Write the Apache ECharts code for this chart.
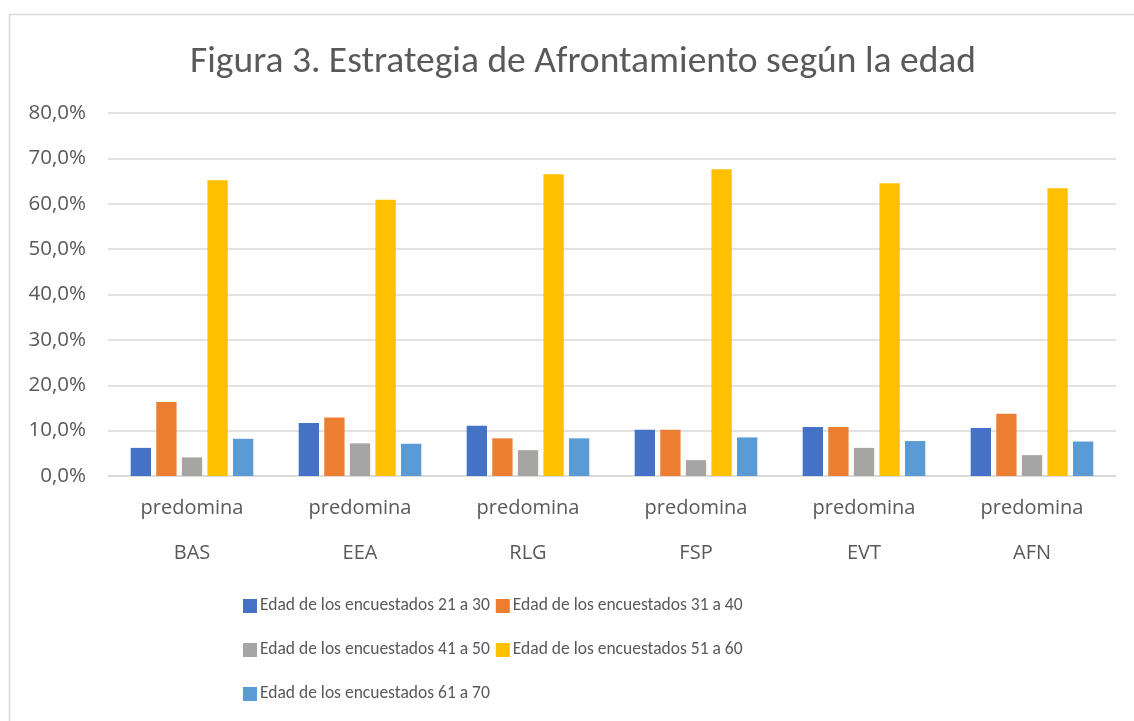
<!DOCTYPE html>
<html>
<head>
<meta charset="utf-8">
<script src="https://cdn.jsdelivr.net/npm/echarts@6/dist/echarts.min.js"></script>
<style>
  html, body { margin: 0; padding: 0; background: #fff; }
  #chart { width: 1134px; height: 721px; }
</style>
</head>
<body>
<div id="chart"></div>
<script>
// strategies (lower label row), upper row is always "predomina"
const categories = ['BAS', 'EEA', 'RLG', 'FSP', 'EVT', 'AFN']
const seriesNames = [
  'Edad de los encuestados 21 a 30',
  'Edad de los encuestados 31 a 40',
  'Edad de los encuestados 41 a 50',
  'Edad de los encuestados 51 a 60',
  'Edad de los encuestados 61 a 70'
]
const age21to30 = [6.2, 11.7, 11.1, 10.2, 10.8, 10.6]
const age31to40 = [16.3, 12.9, 8.3, 10.2, 10.8, 13.7]
const age41to50 = [4.1, 7.2, 5.7, 3.5, 6.2, 4.6]
const age51to60 = [65.2, 60.9, 66.5, 67.6, 64.5, 63.4]
const age61to70 = [8.2, 7.1, 8.3, 8.5, 7.7, 7.6]
const yTicks = [0, 10, 20, 30, 40, 50, 60, 70, 80]

const colors = ['#4472C4', '#ED7D31', '#A5A5A5', '#FFC000', '#5B9BD5']
const titleFont = 'Carlito, Calibri, "Noto Sans", sans-serif'
const legendFont = 'Carlito, Calibri, "Noto Sans", sans-serif'
const axisFont = '"Open Sans", "Noto Sans", sans-serif'
const textColor = '#595959'
const lineColor = '#d9d9d9'

const chart = echarts.init(document.getElementById('chart'))

const allValues = [age21to30, age31to40, age41to50, age51to60, age61to70]
const series = allValues.map((vals, i) => ({
  name: seriesNames[i],
  type: 'bar',
  data: vals,
  barGap: '26%',
  barCategoryGap: '27%',
  itemStyle: { color: colors[i] }
}))

const legendRow = (names, top) => ({
  data: names,
  left: 243,
  top: top,
  padding: 0,
  orient: 'horizontal',
  itemWidth: 14,
  itemHeight: 14,
  itemGap: 6,
  icon: 'rect',
  textStyle: { color: textColor, fontSize: 17.5, fontFamily: legendFont, padding: [0, 0, 0, -2] }
})

chart.setOption({
  animation: false,
  color: colors,
  graphic: [{
    type: 'rect',
    shape: { x: 9.5, y: 14.5, width: 1140, height: 720 },
    style: { fill: 'none', stroke: lineColor, lineWidth: 1.5 },
    silent: true
  }],
  title: {
    text: 'Figura 3. Estrategia de Afrontamiento según la edad',
    left: 578,
    textAlign: 'center',
    top: 39,
    textStyle: { color: textColor, fontSize: 37.5, fontWeight: 'normal', fontFamily: titleFont }
  },
  legend: [
    legendRow([seriesNames[0], seriesNames[1]], 597),
    legendRow([seriesNames[2], seriesNames[3]], 641),
    legendRow([seriesNames[4]], 685)
  ],
  grid: { left: 108, right: 18, top: 113, bottom: 245 },
  xAxis: {
    type: 'category',
    data: categories,
    axisLine: { lineStyle: { color: lineColor, width: 1.5 } },
    axisTick: { length: 92, lineStyle: { color: lineColor, width: 1.5 } },
    axisLabel: {
      color: textColor,
      fontSize: 20,
      fontFamily: axisFont,
      lineHeight: 45,
      margin: 10,
      formatter: v => 'predomina\n' + v
    }
  },
  yAxis: {
    type: 'value',
    min: yTicks[0],
    max: yTicks[yTicks.length - 1],
    interval: 10,
    axisLine: { show: false },
    axisTick: { show: false },
    splitLine: { lineStyle: { color: lineColor, width: 1.5 } },
    axisLabel: {
      color: textColor,
      fontSize: 20.5,
      fontFamily: axisFont,
      margin: 22,
      formatter: v => v.toFixed(1).replace('.', ',') + '%'
    }
  },
  series: series
})
</script>
</body>
</html>
